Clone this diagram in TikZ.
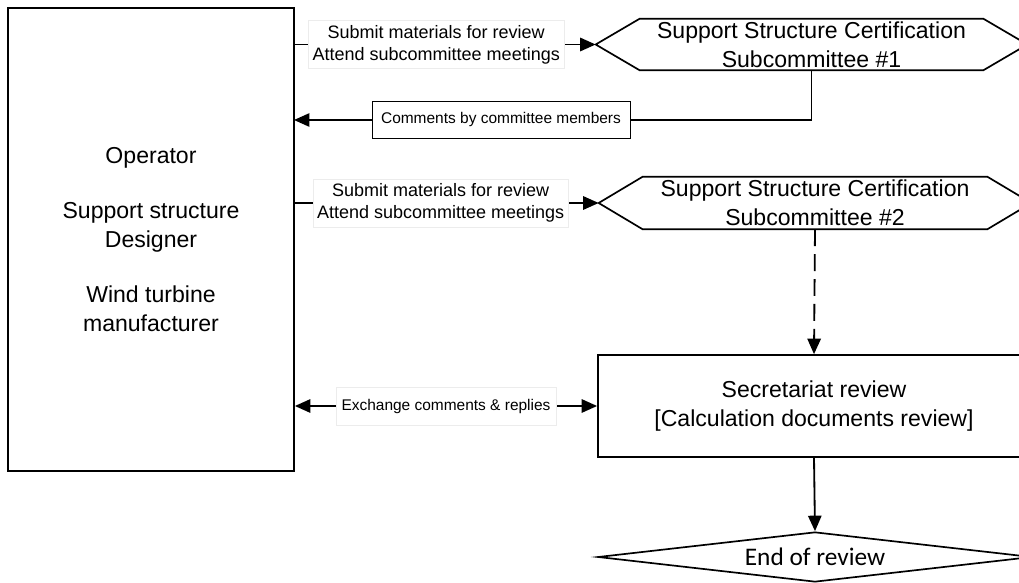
\documentclass[tikz,border=0pt]{standalone}
\usepackage{fontspec}
\setmainfont{Liberation Sans}
\newfontfamily\calibrifont{Carlito}
\usetikzlibrary{arrows.meta,shapes.geometric}

\tikzstyle{pxfig}=[x=0.025cm,y=-0.025cm]
\tikzstyle{flowbox}=[draw,line width=1.2pt,align=center,inner sep=0pt,font=\fontsize{16.4}{20.6}\selectfont]
\tikzstyle{hexbox}=[align=center,inner sep=0pt,font=\fontsize{16.4}{20.6}\selectfont]
\tikzstyle{flowarr}=[line width=1.3pt,-{Triangle[length=11pt,width=9.5pt]}]
\tikzstyle{flowlbl}=[fill=white,draw=gray!15,line width=0.5pt,align=center,inner xsep=3pt,minimum height=0.95cm,font=\fontsize{12.8}{15.6}\selectfont]

\begin{document}
\begin{tikzpicture}[style=pxfig]
\useasboundingbox (0,0) rectangle (1019,583);

% boxes
\node[flowbox,minimum width=7.15cm,minimum height=11.575cm] (ops) at (151,239.5)
    {Operator\\[18.5pt] Support structure\\ Designer\\[18.5pt] Wind turbine\\ manufacturer};
\node[hexbox,minimum width=8.575cm,minimum height=1.275cm] (hexA) at (811.5,44.5)
    {Support Structure Certification\\ Subcommittee \#1};
\node[hexbox,minimum width=8.6cm,minimum height=1.3cm] (hexB) at (815,203)
    {Support Structure Certification\\ Subcommittee \#2};
\node[flowbox,minimum width=10.8cm,minimum height=2.55cm] (sec) at (814,406)
    {Secretariat review\\ {[}Calculation documents review{]}};
\node[flowbox,diamond,aspect=8.68,minimum width=10.85cm,minimum height=1.25cm,
    font=\calibrifont\fontsize{18}{20}\selectfont] (endrev) at (815,557) {End of review};

\foreach \h in {hexA,hexB}{% hexagon outlines
    \coordinate (\h-tip) at ([xshift=-1.1cm]\h.west);
    \draw[line width=1.2pt] (\h.north west) -- (\h.north east) -- ([xshift=1.1cm]\h.east)
        -- (\h.south east) -- (\h.south west) -- (\h-tip) -- cycle;
}

\coordinate (cmt) at (294,120);

% connectors
\draw[flowarr] (ops.east |- hexA-tip) -- (hexA-tip)
    node[flowlbl,pos=0.47] {Submit materials for review\\ Attend subcommittee meetings};
\draw[flowarr] (hexA.south) |- (cmt)
    node[flowlbl,pos=0.8,draw=black,inner xsep=6.4pt,minimum height=0.925cm,font=\fontsize{11}{13}\selectfont] {Comments by committee members};
\draw[flowarr] (ops.east |- hexB-tip) -- (hexB-tip)
    node[flowlbl,pos=0.48] {Submit materials for review\\ Attend subcommittee meetings};
\draw[flowarr,dash pattern=on 12pt off 5.7pt] (hexB.south) -- (sec.north);
\draw[flowarr,{Triangle[length=11pt,width=9.5pt]}-{Triangle[length=11pt,width=9.5pt]}] (ops.east |- sec.west) -- (sec.west)
    node[flowlbl,pos=0.5,inner xsep=4pt,font=\fontsize{11}{13}\selectfont] {Exchange comments \& replies};
\draw[flowarr] (sec.south) -- (endrev.north);

\end{tikzpicture}
\end{document}
